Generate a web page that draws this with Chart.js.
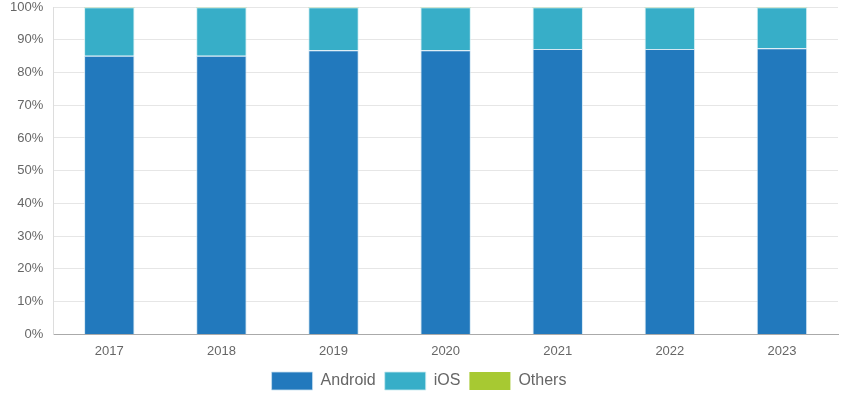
<!DOCTYPE html>
<html>
<head>
<meta charset="utf-8">
<script src="https://cdn.jsdelivr.net/npm/chart.js@4"></script>
<style>
  html, body { margin: 0; padding: 0; background: #fff; }
  #wrap { width: 857px; height: 400px; }
</style>
</head>
<body>
<div id="wrap"><canvas id="chart"></canvas></div>
<script>
const years = ['2017', '2018', '2019', '2020', '2021', '2022', '2023'];
const android = [85.1, 85.1, 86.8, 86.8, 87.2, 87.2, 87.4];
const ios = [14.8, 14.8, 13.1, 13.1, 12.7, 12.7, 12.5];
const others = [0.1, 0.1, 0.1, 0.1, 0.1, 0.1, 0.1];
const yTicks = [0, 10, 20, 30, 40, 50, 60, 70, 80, 90, 100];

Chart.defaults.font.family = '"Liberation Sans", Arial, sans-serif';
Chart.defaults.color = '#666';

new Chart(document.getElementById('chart'), {
  type: 'bar',
  data: {
    labels: years,
    datasets: [
      { label: 'Android', data: android, backgroundColor: '#2279bd', borderColor: 'rgba(200,225,240,0.8)', borderWidth: 1 },
      { label: 'iOS', data: ios, backgroundColor: '#37aec8', borderColor: 'rgba(200,235,240,0.8)', borderWidth: 1 },
      { label: 'Others', data: others, backgroundColor: '#a7c932', borderColor: 'rgba(220,235,200,0.8)', borderWidth: 0 }
    ]
  },
  options: {
    responsive: true,
    maintainAspectRatio: false,
    animation: false,
    layout: { padding: { top: 0, right: 19, left: 0, bottom: 0 } },
    barPercentage: 0.9,
    categoryPercentage: 0.5,
    scales: {
      x: {
        stacked: true,
        grid: { display: false, drawTicks: false },
        border: { color: '#aaa' },
        ticks: { font: { size: 13 }, padding: 9 },
        afterFit: axis => { axis.height -= 5; }
      },
      y: {
        stacked: true,
        min: 0,
        max: 100,
        afterBuildTicks: axis => { axis.ticks = yTicks.map(v => ({ value: v })); },
        // let the top label sit half out of the canvas like the original
        afterFit: axis => { axis.paddingTop = 7; axis.paddingBottom = 7; },
        grid: { color: '#e6e6e6', drawTicks: false },
        border: { color: '#ddd' },
        ticks: { font: { size: 13 }, padding: 10, callback: v => v + '%' }
      }
    },
    plugins: {
      legend: {
        position: 'bottom',
        labels: { boxWidth: 41, boxHeight: 18, font: { size: 16 }, padding: 9 }
      },
      tooltip: { enabled: false }
    }
  }
});
</script>
</body>
</html>
